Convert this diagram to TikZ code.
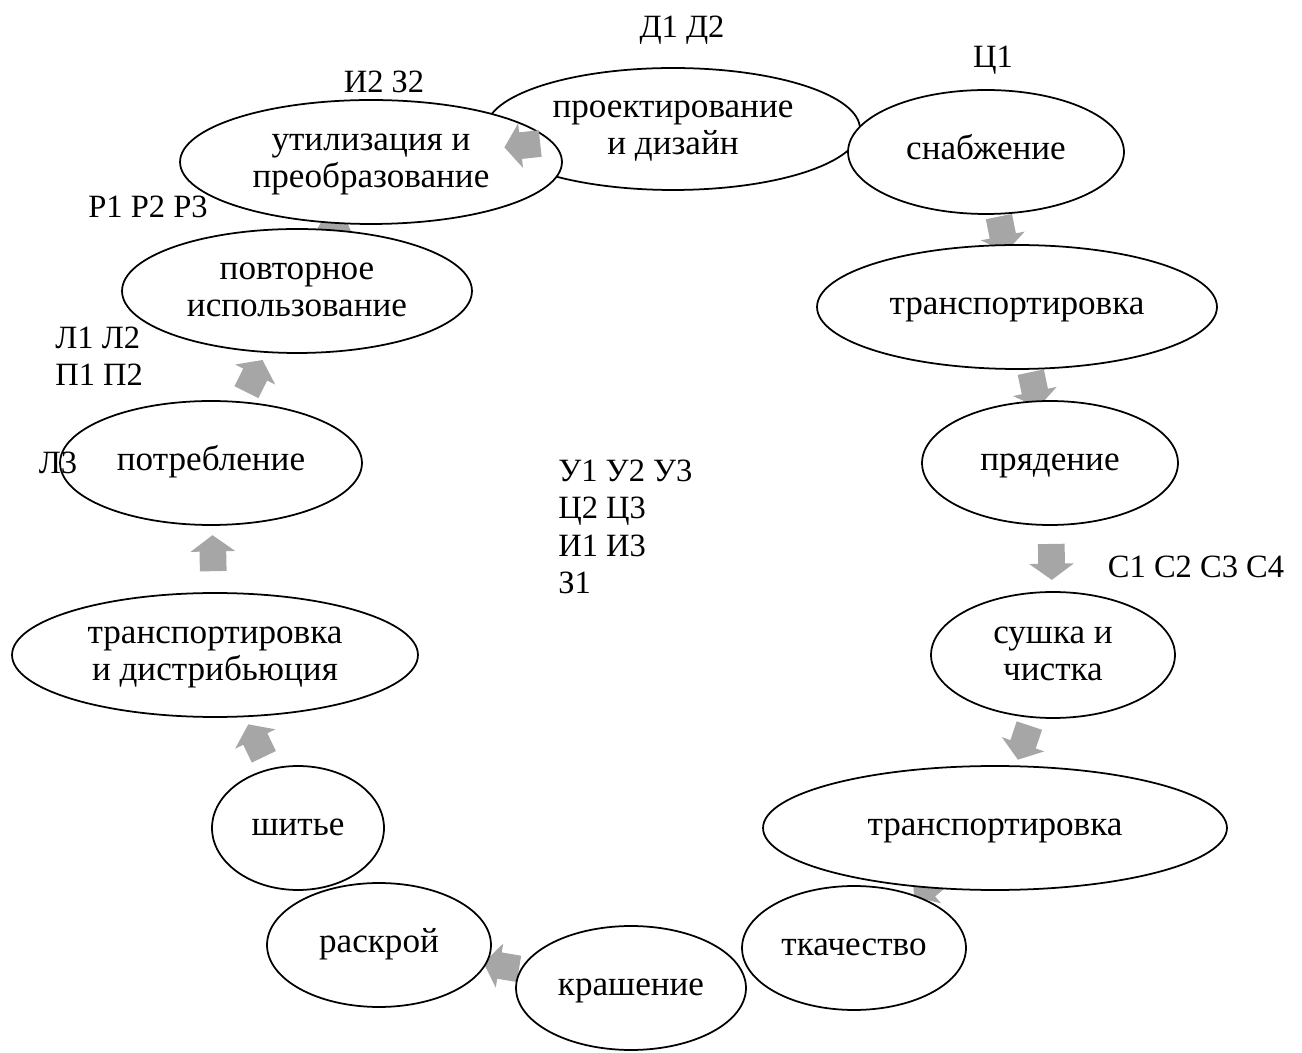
\documentclass[tikz,border=0pt]{standalone}
\usepackage{fontspec}
\setmainfont{Liberation Serif}
\usetikzlibrary{shapes.geometric,shapes.arrows}
\definecolor{arrowgray}{RGB}{166,166,166}
\tikzset{
  stage/.style={ellipse, draw=black, line width=1pt, fill=white, inner sep=0pt,
    align=center, font=\fontsize{20}{21}\selectfont},
  flow/.style={single arrow, fill=arrowgray, draw=none,
    inner xsep=0pt, inner ysep=0.26cm,
    minimum height=0.72cm, minimum width=0.88cm,
    single arrow head extend=0.18cm, single arrow tip angle=108,
    sloped, allow upside down},
  tag/.style={inner sep=0pt, align=left, font=\fontsize{18.5}{21.3}\selectfont}
}
\begin{document}
\begin{tikzpicture}[x=0.02cm, y=-0.02cm]
\useasboundingbox (0,0) rectangle (1302,1053);

% centres of the stages
\coordinate (cproj) at (673,129);
\coordinate (cutil) at (371,162);
\coordinate (csupply) at (986,152);
\coordinate (ctrA) at (1017,307);
\coordinate (cspin) at (1050,463);
\coordinate (cdry) at (1053,655);
\coordinate (ctrB) at (995,828);
\coordinate (cweave) at (854,948);
\coordinate (cdye) at (631,988);
\coordinate (ccut) at (379,945);
\coordinate (csew) at (298,828);
\coordinate (cdist) at (215,655);
\coordinate (cuse) at (211,463);
\coordinate (creuse) at (297,291);

% block arrows lying under the stages
\path (csupply) -- node[flow, pos=0.5] (a2) {} (ctrA);
\path (ctrA) -- node[flow, pos=0.5] (a3) {} (cspin);
\path (cspin) -- node[flow, pos=0.49] (a4) {} (cdry);
\path (cdry) -- node[flow, pos=0.48] (a5) {} (ctrB);
\path (ctrB) -- node[flow, pos=0.45] (a6) {} (cweave);
\path (cdye) -- node[flow, pos=0.496] (a7) {} (ccut);
\path (csew) -- node[flow, pos=0.48] (a8) {} (cdist);
\path (cdist) -- node[flow, pos=0.505] (a9) {} (cuse);
\path (cuse) -- node[flow, pos=0.48] (a10) {} (creuse);
\path (creuse) -- node[flow, pos=0.46] (a11) {} (cutil);

% stages
\node[stage, minimum width=7.48cm, minimum height=2.44cm] (proj) at (cproj) {\strut проектирование\\и дизайн\strut};
\node[stage, minimum width=7.64cm, minimum height=2.48cm] (util) at (cutil) {\strut утилизация и\\преобразование\strut};
\node[stage, minimum width=5.52cm, minimum height=2.48cm] (supply) at (csupply) {\strut снабжение};
\node[stage, minimum width=8.0cm, minimum height=2.48cm] (trA) at (ctrA) {\strut транспортировка};
\node[stage, minimum width=5.12cm, minimum height=2.48cm] (spin) at (cspin) {\strut прядение};
\node[stage, minimum width=4.88cm, minimum height=2.52cm] (dry) at (cdry) {\strut сушка и\\чистка\strut};
\node[stage, minimum width=9.28cm, minimum height=2.48cm] (trB) at (ctrB) {\strut транспортировка};
\node[stage, minimum width=4.48cm, minimum height=2.48cm] (weave) at (cweave) {\strut ткачество};
\node[stage, minimum width=4.6cm, minimum height=2.48cm] (dye) at (cdye) {\strut крашение};
\node[stage, minimum width=4.48cm, minimum height=2.48cm] (cut) at (ccut) {\strut раскрой};
\node[stage, minimum width=3.44cm, minimum height=2.48cm] (sew) at (csew) {\strut шитье};
\node[stage, minimum width=8.12cm, minimum height=2.48cm] (dist) at (cdist) {\strut транспортировка\\и дистрибьюция\strut};
\node[stage, minimum width=6.04cm, minimum height=2.48cm] (use) at (cuse) {\strut потребление};
\node[stage, minimum width=7.0cm, minimum height=2.48cm] (reuse) at (creuse) {\strut повторное\\использование\strut};

% arrow lying over the top pair
\path (proj.center) -- node[flow, pos=0.483] (a1) {} (util.center);

% codes
\node[tag] (tD) at (682,30) {Д1 Д2};
\node[tag] (tC1) at (993,60) {Ц1};
\node[tag] (tI) at (384,82) {И2 З2};
\node[tag] (tR) at (148,207) {Р1 Р2 Р3};
\node[tag, anchor=west] (tLP) at (55,356) {Л1 Л2\\П1 П2};
\node[tag] (tL3) at (58,463) {Л3};
\node[tag, anchor=west] (tU) at (558,527) {У1 У2 У3\\Ц2 Ц3\\И1 И3\\З1};
\node[tag] (tS) at (1196,567) {С1 С2 С3 С4};
\end{tikzpicture}
\end{document}
